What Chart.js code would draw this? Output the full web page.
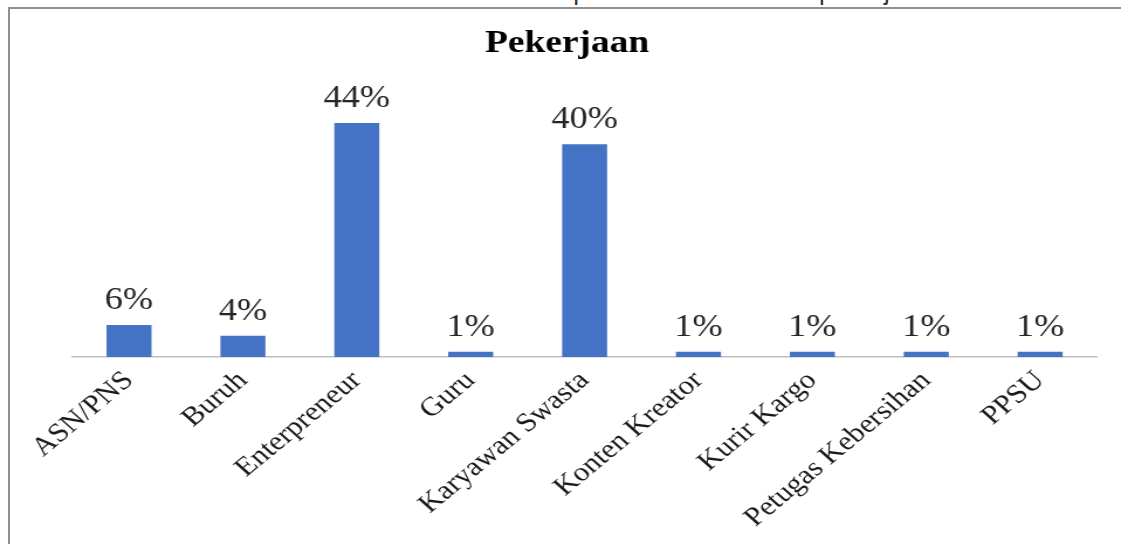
<!DOCTYPE html>
<html>
<head>
<meta charset="utf-8">
<script src="https://cdn.jsdelivr.net/npm/chart.js@4"></script>
<style>
html,body{margin:0;padding:0;background:#fff;width:1121px;height:544px;overflow:hidden;}
#wrap{position:relative;width:1121px;height:544px;overflow:hidden;}
#frame{position:absolute;left:8px;top:7px;width:1130px;height:560px;border-left:2px solid #8f8f8f;border-top:2px solid #8f8f8f;}
#caption{position:absolute;left:0;width:1180px;top:-22.5px;text-align:center;font-family:'Liberation Sans',Arial,sans-serif;font-size:26px;line-height:26px;color:#333;white-space:nowrap;}
#chartbox{position:absolute;left:0;top:0;width:958px;height:544px;transform:scaleX(1.1701);transform-origin:0 0;}
canvas{display:block;}
</style>
</head>
<body>
<div id="wrap">
  <div id="caption">Gambar 4. Karakteristik Responden berdasarkan pekerjaan</div>
  <div id="frame"></div>
  <div id="chartbox"><canvas id="c" width="958" height="544"></canvas></div>
</div>
<script>
const chartTitle = 'Pekerjaan';
const categories = ['ASN/PNS', 'Buruh', 'Enterpreneur', 'Guru', 'Karyawan Swasta', 'Konten Kreator', 'Kurir Kargo', 'Petugas Kebersihan', 'PPSU'];
const percentages = [6, 4, 44, 1, 40, 1, 1, 1, 1];
const yMin = 0;
const yMax = 50;

const valueLabelPlugin = {
  id: 'valueLabels',
  afterDatasetsDraw(chart) {
    const ctx = chart.ctx;
    const meta = chart.getDatasetMeta(0);
    ctx.save();
    ctx.font = '31px "Liberation Serif", "Times New Roman", serif';
    ctx.fillStyle = '#262626';
    ctx.textAlign = 'center';
    ctx.textBaseline = 'alphabetic';
    meta.data.forEach((bar, i) => {
      ctx.fillText(percentages[i] + '%', bar.x, bar.y - 16);
    });
    ctx.restore();
  }
};

new Chart(document.getElementById('c'), {
  type: 'bar',
  data: {
    labels: categories,
    datasets: [{
      data: percentages,
      backgroundColor: '#4472C4',
      borderWidth: 0,
      categoryPercentage: 1,
      barPercentage: 0.395
    }]
  },
  options: {
    responsive: false,
    animation: false,
    layout: { padding: { left: 31.6, right: 20.4, top: 0, bottom: 0 } },
    plugins: {
      legend: { display: false },
      tooltip: { enabled: false },
      title: {
        display: true,
        text: chartTitle,
        color: '#000',
        font: { family: '"Liberation Serif", "Times New Roman", serif', size: 32, weight: 'bold', lineHeight: 1.2 },
        padding: { top: 25, bottom: 27.6 }
      }
    },
    scales: {
      x: {
        grid: { display: false },
        border: { display: true, color: '#bfbfbf', width: 1.5 },
        ticks: {
          autoSkip: false,
          maxRotation: 44,
          minRotation: 44,
          padding: 0,
          color: '#1a1a1a',
          font: { family: '"Liberation Serif", "Times New Roman", serif', size: 26.5 }
        },
        afterFit: (s) => { s.height = 187; }
      },
      y: {
        min: yMin,
        max: yMax,
        grid: { display: false },
        border: { display: false },
        ticks: { display: false },
        afterFit: (s) => { s.width = 30; }
      }
    }
  },
  plugins: [valueLabelPlugin]
});
</script>
</body>
</html>
